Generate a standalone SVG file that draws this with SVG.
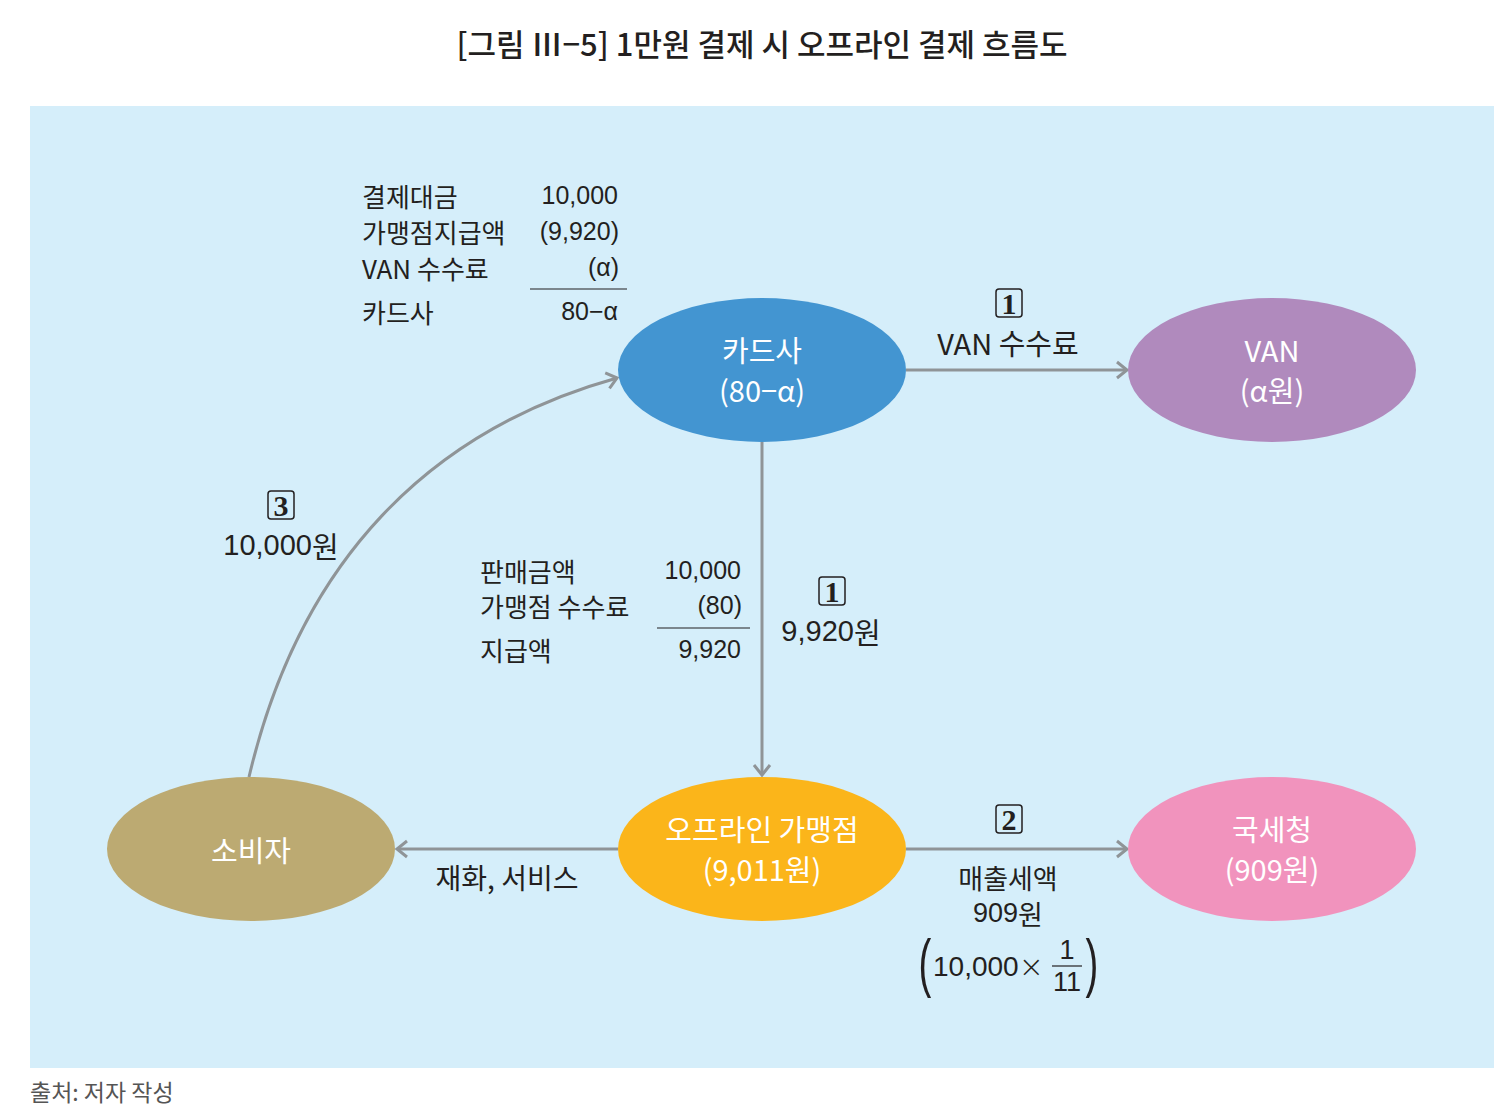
<svg xmlns="http://www.w3.org/2000/svg" width="1510" height="1114" viewBox="0 0 1510 1114">
<style>
text{font-family:"Liberation Sans","Noto Sans CJK KR",sans-serif;fill:#231f20;dominant-baseline:central}
.k{font-family:"Noto Sans CJK KR","Liberation Sans",sans-serif}
.t{font-size:26px}
.n{font-size:25px}
.w{fill:#ffffff;font-size:29px;text-anchor:middle}
.r{text-anchor:end}
.box{fill:none;stroke:#231f20;stroke-width:1.5}
.num{font-family:"Liberation Serif","DejaVu Serif",serif;font-weight:900;font-size:30px;text-anchor:middle}
.ln{stroke:#231f20;stroke-width:1.2}
.edge{fill:none;stroke:#8f9497;stroke-width:3;marker-end:url(#ah)}
</style>
<defs>
<marker id="ah" markerWidth="16" markerHeight="20" refX="13" refY="10" orient="auto" markerUnits="userSpaceOnUse">
<path d="M3,2 L13,10 L3,18" fill="none" stroke="#8f9497" stroke-width="3"/>
</marker>
</defs>
<rect x="0" y="0" width="1510" height="1114" fill="#ffffff"/>
<text class="k" x="762" y="42" text-anchor="middle" font-size="31" font-weight="500">[그림 Ⅲ−5] 1만원 결제 시 오프라인 결제 흐름도</text>
<rect x="30" y="106" width="1464" height="962" fill="#d5eefa"/>

<g id="connectors">
<line class="edge" x1="906" y1="370" x2="1127" y2="370"/>
<line class="edge" x1="762" y1="442" x2="762" y2="775"/>
<line class="edge" x1="618" y1="849" x2="397" y2="849"/>
<line class="edge" x1="906" y1="849" x2="1127" y2="849"/>
<path class="edge" d="M249,777 C300,560 430,430 617,378"/>
</g>

<g id="node-card">
<ellipse cx="762" cy="370" rx="144" ry="72" fill="#4395d1"/>
<text class="k w" x="762" y="349">카드사</text>
<text class="k w" x="762" y="389">(80−α)</text>
</g>
<g id="node-van">
<ellipse cx="1272" cy="370" rx="144" ry="72" fill="#b08abd"/>
<text class="k w" x="1272" y="349">VAN</text>
<text class="k w" x="1272" y="389">(α원)</text>
</g>
<g id="node-consumer">
<ellipse cx="251" cy="849" rx="144" ry="72" fill="#bcaa72"/>
<text class="k w" x="251" y="849">소비자</text>
</g>
<g id="node-store">
<ellipse cx="762" cy="849" rx="144" ry="72" fill="#fbb51a"/>
<text class="k w" x="762" y="828">오프라인 가맹점</text>
<text class="k w" x="762" y="868">(9,011원)</text>
</g>
<g id="node-tax">
<ellipse cx="1272" cy="849" rx="144" ry="72" fill="#f193bd"/>
<text class="k w" x="1272" y="828">국세청</text>
<text class="k w" x="1272" y="868">(909원)</text>
</g>

<g id="table-top">
<text class="k t" x="362" y="195">결제대금</text>
<text class="k t" x="362" y="231">가맹점지급액</text>
<text class="k t" x="362" y="267">VAN 수수료</text>
<text class="k t" x="362" y="311">카드사</text>
<text class="n r" x="618" y="195">10,000</text>
<text class="n r" x="619" y="231">(9,920)</text>
<text class="n r" x="619" y="267">(α)</text>
<text class="n r" x="618" y="311">80−α</text>
<line class="ln" x1="530" y1="289" x2="627" y2="289"/>
</g>

<g id="table-mid">
<text class="k t" x="480" y="570">판매금액</text>
<text class="k t" x="480" y="605">가맹점 수수료</text>
<text class="k t" x="480" y="649">지급액</text>
<text class="n r" x="741" y="570">10,000</text>
<text class="n r" x="742" y="605">(80)</text>
<text class="n r" x="741" y="649">9,920</text>
<line class="ln" x1="657" y1="628" x2="750" y2="628"/>
</g>

<g id="label-van">
<rect class="box" x="996" y="289" width="26" height="28" rx="3"/>
<text class="num" x="1009" y="303">1</text>
<text class="k" x="1008" y="342" font-size="29" text-anchor="middle">VAN 수수료</text>
</g>
<g id="label-consumer">
<rect class="box" x="268" y="491" width="26" height="28" rx="3"/>
<text class="num" x="281" y="505">3</text>
<text x="281" y="545" font-size="29" text-anchor="middle"><tspan>10,000</tspan><tspan class="k">원</tspan></text>
</g>
<g id="label-store">
<rect class="box" x="819" y="577" width="26" height="28" rx="3"/>
<text class="num" x="832" y="591">1</text>
<text x="831" y="631" font-size="29" text-anchor="middle">9,920<tspan class="k">원</tspan></text>
</g>
<g id="label-goods">
<text class="k" x="507" y="877" font-size="28" text-anchor="middle">재화, 서비스</text>
</g>
<g id="label-tax">
<rect class="box" x="996" y="805" width="26" height="28" rx="3"/>
<text class="num" x="1009" y="819">2</text>
<text class="k" x="1008" y="877" font-size="27" text-anchor="middle">매출세액</text>
<text x="1008" y="913" font-size="27" text-anchor="middle">909<tspan class="k">원</tspan></text>
<text x="925" y="963" font-size="64" font-weight="100" text-anchor="middle" transform="translate(925 963) scale(0.6 1) translate(-925 -963)">(</text>
<text x="1092" y="963" font-size="64" font-weight="100" text-anchor="middle" transform="translate(1092 963) scale(0.6 1) translate(-1092 -963)">)</text>
<text x="933" y="966" font-size="28">10,000<tspan font-family="DejaVu Sans, sans-serif" font-size="30" font-weight="100">×</tspan></text>
<text x="1067" y="950" font-size="27" text-anchor="middle">1</text>
<line class="ln" x1="1052" y1="966" x2="1082" y2="966"/>
<text x="1067" y="982" font-size="27" text-anchor="middle">11</text>
</g>

<text class="k" x="30" y="1091" font-size="23" style="fill:#555555">출처: 저자 작성</text>
</svg>
